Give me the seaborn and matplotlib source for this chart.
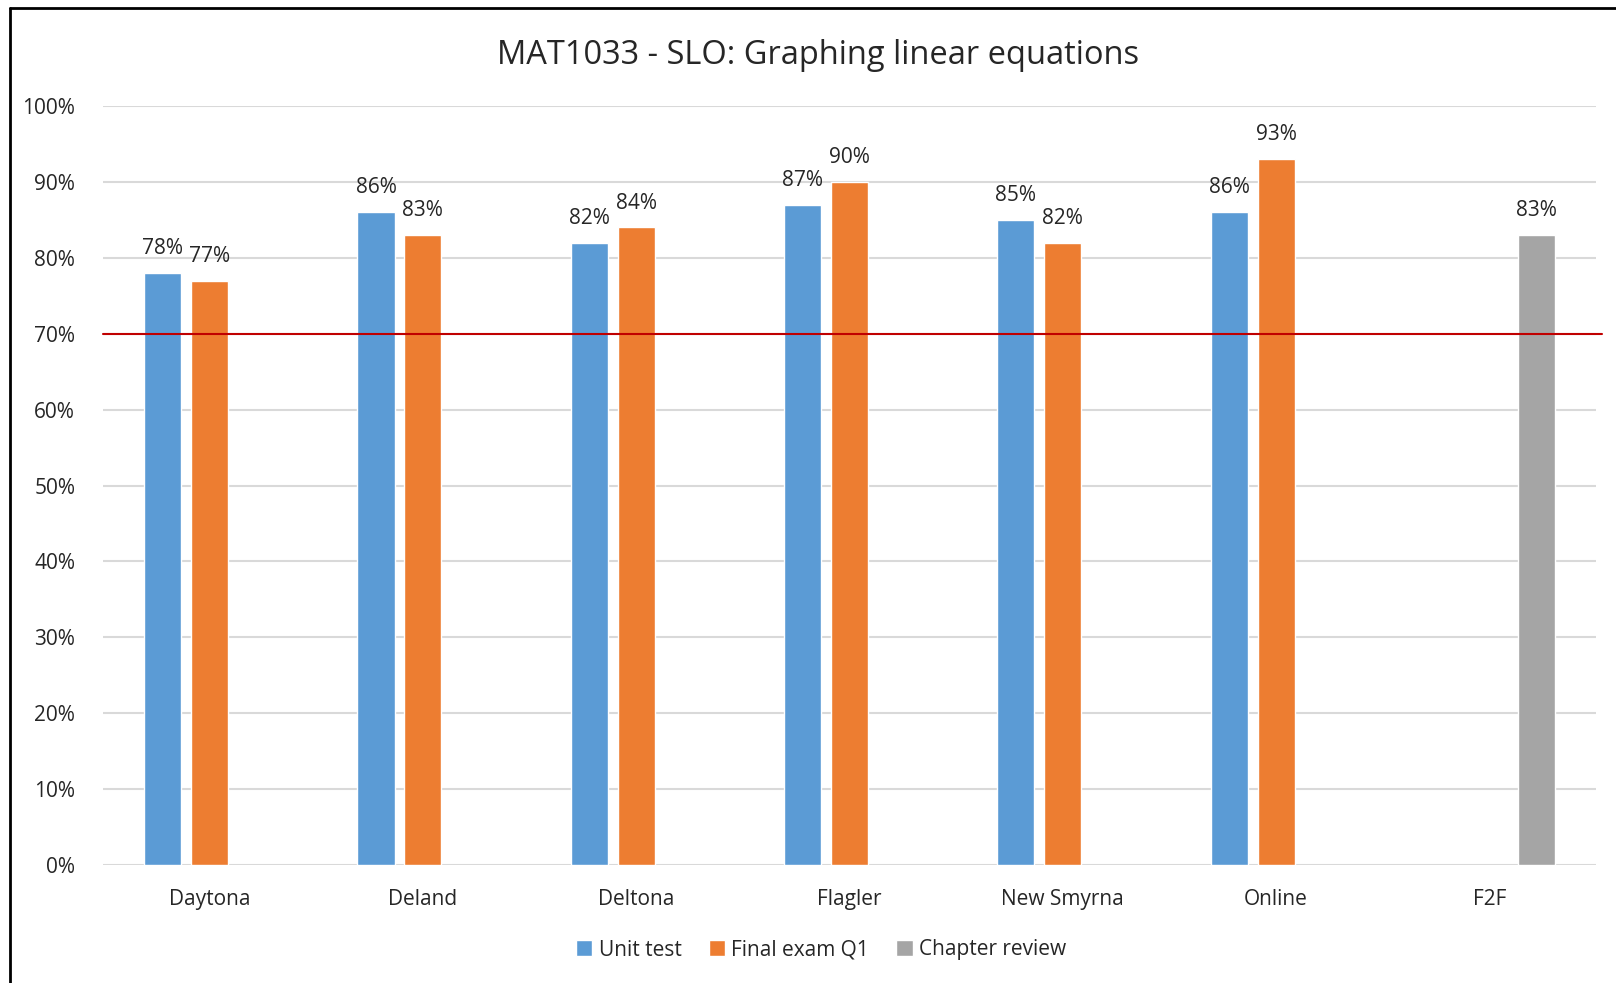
import numpy as np
import pandas as pd
import seaborn as sns
import matplotlib.pyplot as plt
from matplotlib.lines import Line2D

# chart values
regions = ['Daytona', 'Deland', 'Deltona', 'Flagler', 'New Smyrna', 'Online', 'F2F']
unit_test = [0.78, 0.86, 0.82, 0.87, 0.85, 0.86, np.nan]
final_exam_q1 = [0.77, 0.83, 0.84, 0.90, 0.82, 0.93, np.nan]
chapter_review = [np.nan, np.nan, np.nan, np.nan, np.nan, np.nan, 0.83]
series = ['Unit test', 'Final exam Q1', 'Chapter review']
target = 0.70

df = pd.DataFrame({
    'region': regions * 3,
    'series': [s for s in series for _ in regions],
    'score': unit_test + final_exam_q1 + chapter_review,
}).dropna()

sns.set_style('white')
plt.rcParams['font.family'] = ['Open Sans', 'DejaVu Sans']

fig = plt.figure(figsize=(16.16, 9.83), dpi=100)
ax = fig.add_axes([103/1616, 1-865/983, (1596-103)/1616, (865-106)/983])

sns.barplot(data=df, x='region', y='score', hue='series', order=regions,
            hue_order=series, palette=['#5B9BD5', '#ED7D31', '#A5A5A5'],
            saturation=1, width=0.66, gap=0.21, errorbar=None, ax=ax)

for c in ax.containers:
    ax.bar_label(c, fmt=lambda v: f'{v*100:.0f}%', padding=10, fontsize=15)

ax.set_ylim(0, 1)
ax.set_xlim(-0.5, len(regions) - 0.5)
ax.set_yticks(np.arange(0, 1.01, 0.1))
ax.set_yticklabels([f'{int(round(t*100))}%' for t in np.arange(0, 1.01, 0.1)])
ax.yaxis.grid(True, color='#D9D9D9', linewidth=1.5)
ax.set_axisbelow(True)
ax.tick_params(axis='both', length=0, labelsize=15)
ax.tick_params(axis='y', pad=20)
ax.tick_params(axis='x', pad=17)
ax.set_xlabel('')
ax.set_ylabel('')
for s in ax.spines.values():
    s.set_visible(False)

ax.axhline(target, xmin=0, xmax=1.004, color='#C00000', linewidth=1.5, clip_on=False, zorder=5)

handles, labels = ax.get_legend_handles_labels()
ax.get_legend().remove()
fig.legend(handles, labels, loc='center', bbox_to_anchor=(821/1616, 1-950/983),
           ncol=3, frameon=False, fontsize=15, handlelength=0.8, handleheight=0.8,
           handletextpad=0.3, columnspacing=1.3)

fig.text(818/1616, 1-55/983, 'MAT1033 - SLO: Graphing linear equations',
         ha='center', va='center', fontsize=23.5)

# outer chart border (left and top only, rest is cropped)
fig.add_artist(Line2D([10/1616, 10/1616], [0, 1-8/983], color='black', linewidth=2))
fig.add_artist(Line2D([10/1616, 1], [1-8/983, 1-8/983], color='black', linewidth=2))

fig.savefig('out.png', dpi=100)
